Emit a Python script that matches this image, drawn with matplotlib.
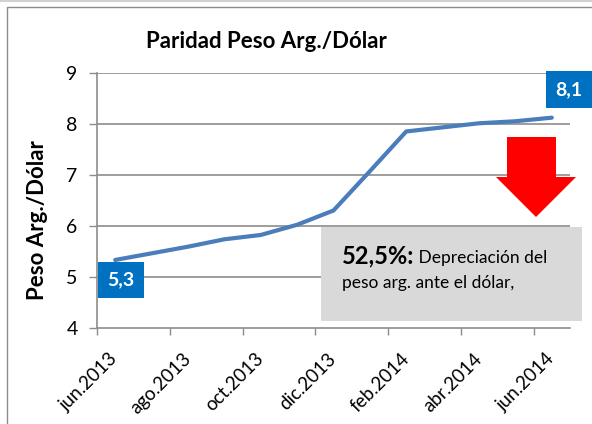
import matplotlib
matplotlib.use("Agg")
import matplotlib.pyplot as plt
from matplotlib.lines import Line2D
from matplotlib.patches import Polygon, Rectangle

plt.rcParams['font.family'] = ['Lato', 'DejaVu Sans']

# ---- data ----
months = ["jun.2013", "jul.2013", "ago.2013", "sep.2013", "oct.2013", "nov.2013",
          "dic.2013", "ene.2014", "feb.2014", "mar.2014", "abr.2014", "may.2014",
          "jun.2014"]
values = [5.34, 5.47, 5.60, 5.745, 5.83, 6.03, 6.31, 7.08, 7.86, 7.94, 8.02, 8.06, 8.13]
yticks = [4, 5, 6, 7, 8, 9]
title = "Paridad Peso Arg./Dólar"
ylabel = "Peso Arg./Dólar"
note_bold = "52,5%:"
note_line1 = " Depreciación del"
note_line2 = "peso arg. ante el dólar,"

W, H = 592, 424
fig = plt.figure(figsize=(W / 100, H / 100), dpi=100)

def fx(px):
    return px / W

def fy(py):
    return 1 - py / H

# frame lines
fig.add_artist(Line2D([0, 1], [fy(0.5), fy(0.5)], color="#c8c8c8", lw=1.2))
fig.add_artist(Line2D([fx(7), fx(7), 1.0], [0.0, fy(7), fy(7)], color="#8c8c8c", lw=1.0))

left, right, top, bottom = 97, 570, 73.3, 328.3
ax = fig.add_axes([fx(left), fy(bottom), fx(right - left), (bottom - top) / H])

x = list(range(len(months)))
ax.plot(x, values, color="#4a7ebb", lw=3.0, solid_capstyle="round", zorder=3)

ax.set_xlim(-0.5, len(months) - 0.5)
ax.set_ylim(4, 9)
ax.set_yticks(yticks)
ax.set_yticklabels([str(v) for v in yticks], fontsize=14)
ax.tick_params(axis="y", length=6, width=1, color="#8c8c8c", pad=8)

# labels every 2 categories, tick marks at boundaries
ax.set_xticks(x[::2])
ax.set_xticklabels(months[::2], rotation=45, ha="right", va="center",
                   rotation_mode="anchor", fontsize=13.5)
ax.tick_params(axis="x", length=0, pad=20)
ax.set_xticks([i - 0.5 for i in x[::2]], minor=True)
ax.tick_params(axis="x", which="minor", length=5, width=1, color="#8c8c8c")

for v in yticks[1:]:
    ax.axhline(v, color="#8c8c8c", lw=1.2, zorder=1)

for s in ["top", "right"]:
    ax.spines[s].set_visible(False)
for s in ["left", "bottom"]:
    ax.spines[s].set_color("#8c8c8c")
    ax.spines[s].set_linewidth(1.2)

# data labels
fmt = lambda v: f"{v:.1f}".replace(".", ",")
box = dict(boxstyle="square,pad=0.5", fc="#0070c0", ec="none")
ax.annotate(fmt(values[0]), (x[0], values[0]), xytext=(6, -20), textcoords="offset pixels",
            ha="center", va="center", color="white", fontsize=14, fontweight="bold",
            bbox=box, zorder=5, annotation_clip=False)
ax.annotate(fmt(values[-1]), (x[-1], values[-1]), xytext=(17, 28), textcoords="offset pixels",
            ha="center", va="center", color="white", fontsize=14, fontweight="bold",
            bbox=box, zorder=5, annotation_clip=False)

# title and y label
fig.text(fx(266), fy(42), title, ha="center", va="center", fontsize=16, fontweight="bold")
fig.text(fx(38), fy(220), ylabel, ha="center", va="center", rotation=90,
         fontsize=16, fontweight="bold")

# note box
fig.add_artist(Rectangle((fx(321), fy(321)), fx(582 - 321), (321 - 227) / H,
                         transform=fig.transFigure, fc="#d9d9d9", ec="none", zorder=4))
t1 = fig.text(fx(342), fy(263), note_bold, ha="left", va="baseline", fontsize=17,
              fontweight="bold", zorder=6)
fig.canvas.draw()
bb = t1.get_window_extent()
fig.text(bb.x1 / W, fy(263), note_line1, ha="left", va="baseline", fontsize=12.5, zorder=6)
fig.text(fx(342), fy(288), note_line2, ha="left", va="baseline", fontsize=12.5, zorder=6)

# red arrow
arrow_px = [(507, 137), (556, 137), (556, 177), (576, 177), (536, 217),
            (496, 177), (507, 177)]
fig.add_artist(Polygon([(fx(a), fy(b)) for a, b in arrow_px], closed=True,
                       transform=fig.transFigure, fc="#ff0000", ec="none", zorder=6))

fig.savefig("out.png", dpi=100)
